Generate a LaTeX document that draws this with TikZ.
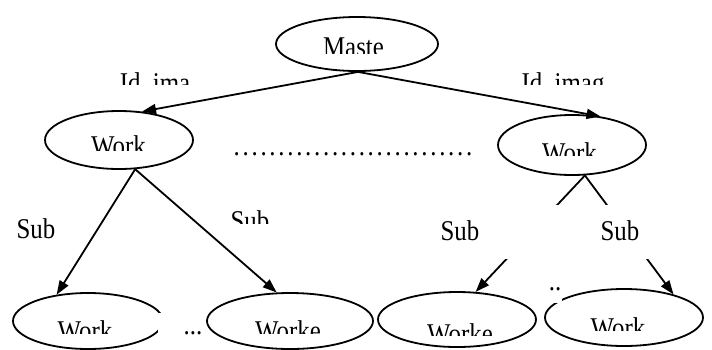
\documentclass[tikz,border=0pt]{standalone}
\usepackage{fontspec}
\setmainfont{Liberation Serif}[FakeStretch=0.87]
\usetikzlibrary{arrows.meta,shapes.geometric}
\tikzset{
  lbl/.style={inner sep=0pt, font=\fontsize{14.3}{16}\selectfont},
  cut/.style={inner sep=0pt, anchor=north, path picture={\node[lbl, anchor=north, minimum size=0pt] at (path picture bounding box.north) {#1};}},
  oval/.style={ellipse, draw, line width=0.9pt, inner sep=0pt},
  arr/.style={line width=0.9pt, -{Triangle[length=7pt,width=5pt]}},
}
\begin{document}
\begin{tikzpicture}[x=0.5pt,y=-0.5pt]
\useasboundingbox (0,0) rectangle (712,349);
% ovals
\node[oval, minimum width=81pt, minimum height=27pt] (m) at (357,44) {};
\node[oval, minimum width=74pt, minimum height=29pt] (w1) at (119,140) {};
\node[oval, minimum width=74pt, minimum height=30pt] (w2) at (572,145) {};
\node[oval, minimum width=75pt, minimum height=28pt] (b1) at (88,321) {};
\node[oval, minimum width=83pt, minimum height=28pt] (b2) at (290,321) {};
\node[oval, minimum width=79pt, minimum height=27.5pt] (b3) at (457,319.5) {};
\node[oval, minimum width=79pt, minimum height=28.5pt] (b4) at (624,317.5) {};
% texts, cut off at the bottom
\node[cut=Maste, minimum width=40pt, minimum height=8pt] (tm) at (353.5,37) {};
\node[cut=Work, minimum width=36pt, minimum height=7.5pt] (tw1) at (118.5,135) {};
\node[cut=Work, minimum width=36pt, minimum height=6.5pt] (tw2) at (569.5,142) {};
\node[cut=Work, minimum width=36pt, minimum height=6.5pt] (tb1) at (85,320) {};
\node[cut=Worke, minimum width=40pt, minimum height=6.5pt] (tb2) at (288,320) {};
\node[cut=Worke, minimum width=40pt, minimum height=6pt] (tb3) at (460,323) {};
\node[cut=Work, minimum width=36pt, minimum height=6.5pt] (tb4) at (618,317) {};
\node[cut=Id\_ima, minimum width=46pt, minimum height=6pt] (l1) at (155,72) {};
\node[cut=Id\_imag, minimum width=50pt, minimum height=6pt] (l2) at (563,72) {};
% connectors
\draw[arr] (m.-88) -- (w1.51);
\draw[arr] (m.-88) -- (w2.45);
\draw[arr] (w1.-61) -- (b1.140);
\draw[arr] (w1.-61) -- (b2.115);
\draw[arr] (w2.-67) -- (b3.56);
\draw[arr] (w2.-67) -- (b4.25);
% sub labels
\node[lbl, anchor=north] (s1) at (36,218) {Sub};
\node[cut=Sub, minimum width=24pt, minimum height=6.5pt] (s2) at (250,210) {};
\node[lbl, fill=white, text height=17.75pt, text depth=9.25pt, minimum width=100pt, anchor=base] (s3) at (460,240.5) {Sub};
\node[lbl, fill=white, text height=17.75pt, text depth=9.25pt, minimum width=35pt, anchor=base] (s4) at (620,240.5) {Sub};
% dots
\node[lbl, anchor=base] (d1) at (353,155) {\addfontfeature{LetterSpace=9.5}...........................};
\node[lbl, fill=white, anchor=west, text width=22pt, align=right, minimum height=20pt] (d2) at (158,333) {...};
\node[lbl, fill=white, minimum width=7pt, minimum height=13.5pt] (d3) at (555,289) {..};
\end{tikzpicture}
\end{document}
